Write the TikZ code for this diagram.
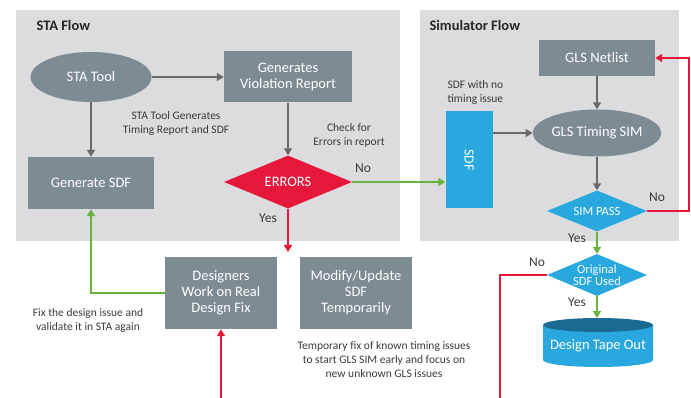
\documentclass[tikz,border=0pt]{standalone}
\usepackage{fontspec}
\setmainfont{Carlito}
\usetikzlibrary{arrows.meta,shapes.geometric,positioning}
\definecolor{panelgrey}{HTML}{DCDCDE}
\definecolor{boxgrey}{HTML}{7D8B92}
\definecolor{linegrey}{HTML}{6A6A6C}
\definecolor{errred}{HTML}{E5173A}
\definecolor{simblue}{HTML}{29A8E0}
\definecolor{tapeblue}{HTML}{1B6A92}
\definecolor{okgreen}{HTML}{6AB23E}
\definecolor{txtgrey}{HTML}{3A3A3C}

\begin{document}
\begin{tikzpicture}[x=1pt, y=-1pt, >={Triangle[length=7pt,width=8pt]},
  box/.style={rectangle, fill=boxgrey, text=white, align=center, inner sep=0pt,
    font=\fontsize{14.5}{16}\selectfont},
  oval/.style={ellipse, fill=boxgrey, text=white, inner sep=0pt,
    font=\fontsize{14.5}{16}\selectfont},
  decide/.style={diamond, aspect=2.4, inner sep=0pt, text=white, align=center},
  note/.style={text=txtgrey, align=center, font=\fontsize{11.5}{14}\selectfont},
  answer/.style={text=txtgrey, font=\fontsize{13.5}{15}\selectfont},
  heading/.style={text=black!85, font=\fontsize{14.5}{16}\selectfont\bfseries, anchor=west},
  gline/.style={draw=linegrey, line width=1.6pt},
  okline/.style={draw=okgreen, line width=1.6pt},
  failline/.style={draw=errred, line width=1.6pt}]
  \useasboundingbox (0,0) rectangle (691,398);
  \fill[panelgrey] (16,10) rectangle (400,241);
  \fill[panelgrey] (420,10) rectangle (679,241);
  \node[heading] (staflow) at (33,25) {STA Flow};
  \node[heading] (simflow) at (426,25) {Simulator Flow};

  % STA flow
  \node[oval, minimum width=121pt, minimum height=50pt] (statool) at (91,77) {STA Tool};
  \node[box, minimum width=128pt, minimum height=51pt] (violation) at (288,77) {Generates\\Violation Report};
  \node[box, minimum width=126pt, minimum height=52pt] (gensdf) at (91,183) {Generate SDF};
  \node[decide, fill=errred, minimum width=128pt, minimum height=53pt,
    font=\fontsize{14.5}{16}\selectfont] (errors) at (288,182) {ERRORS};
  \node[note] (stanote) at (176,123) {STA Tool Generates\\Timing Report and SDF};
  \node[note] (checknote) at (349,135) {Check for\\Errors in report};
  \node[answer] (errno) at (363,168) {No};
  \node[answer] (erryes) at (268,218) {Yes};
  \coordinate (yesend) at (288,252);

  % fixes
  \node[box, minimum width=112pt, minimum height=72pt] (designers) at (221,293) {Designers\\Work on Real\\Design Fix};
  \node[box, minimum width=112pt, minimum height=72pt] (modify) at (356,293) {Modify/Update\\SDF\\Temporarily};
  \node[note] (fixnote) at (88,320) {Fix the design issue and\\validate it in STA again};
  \node[note] (tempnote) at (384,360) {Temporary fix of known timing issues\\to start GLS SIM early and focus on\\new unknown GLS issues};
  \coordinate (fixstart) at (221,398);

  % simulator flow
  \node[box, minimum width=116pt, minimum height=36pt] (netlist) at (597,58) {GLS Netlist};
  \node[rectangle, fill=simblue, minimum width=47pt, minimum height=97pt, inner sep=0pt] (sdf) at (469,160) {};
  \node[text=white, rotate=-90, font=\fontsize{14}{16}\selectfont] (sdftext) at (sdf) {SDF};
  \node[note, align=left, anchor=west] (sdfnote) at (444,92) {SDF with no\\timing issue};
  \node[oval, minimum width=120pt, minimum height=47pt] (glssim) at (597,133) {GLS Timing SIM};
  \node[decide, fill=simblue, minimum width=100pt, minimum height=41pt,
    font=\fontsize{12.5}{13}\selectfont] (simpass) at (597,211) {SIM PASS};
  \node[answer] (simno) at (657,197) {No};
  \node[answer] (simyes) at (577,238) {Yes};
  \node[decide, fill=simblue, minimum width=100pt, minimum height=42pt,
    font=\fontsize{12.5}{12}\selectfont] (origsdf) at (597,275) {Original\\SDF Used};
  \node[answer] (origno) at (537,262) {No};
  \node[answer] (origyes) at (577,302) {Yes};
  \coordinate (nostart) at (500,398);

  % tape out drum
  \fill[simblue] (543,325) -- (543,360) arc[start angle=180, end angle=0, x radius=55, y radius=7] -- (653,325) -- cycle;
  \fill[tapeblue] (598,325) ellipse[x radius=55, y radius=7];
  \node[text=white, font=\fontsize{14.5}{16}\selectfont] (tapeout) at (598,346) {Design Tape Out};
  \coordinate (tapetop) at (597,318);

  % connectors
  \draw[gline,->] (statool) -- (violation);
  \draw[gline,->] (statool) -- (gensdf);
  \draw[gline,->] (violation) -- (errors);
  \draw[okline,->] (errors.east) -- (errors.east -| sdf.west);
  \draw[failline,->] (errors.south) -- (yesend);
  \draw[okline,->] (designers.west) -| (gensdf.south);
  \draw[failline,->] (fixstart) -- (designers.south);
  \draw[gline,->] (netlist) -- (glssim);
  \draw[gline,->] (glssim.west -| sdf.east) -- (glssim.west);
  \draw[gline,->] (glssim) -- (simpass);
  \draw[failline,->] (simpass.east) -- ++(42,0) |- (netlist.east);
  \draw[okline,->] (simpass.south) -- (origsdf.north);
  \draw[failline] (origsdf.west) -| (nostart);
  \draw[okline,->] (origsdf.south) -- (tapetop);
\end{tikzpicture}
\end{document}
